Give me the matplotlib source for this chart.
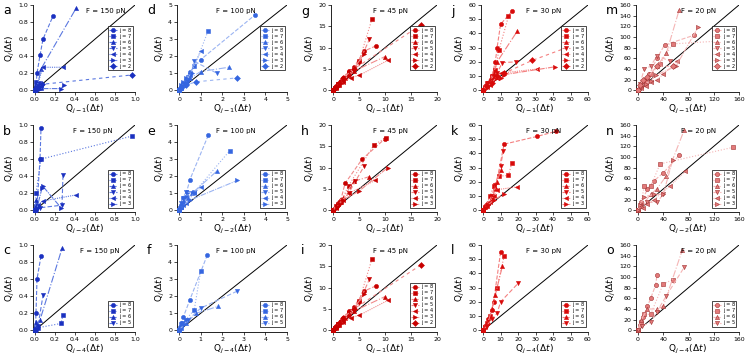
import matplotlib
matplotlib.use("Agg")
import matplotlib.pyplot as plt

# ---------------- data (estimated) ----------------
j_labels = [8, 7, 6, 5, 4, 3, 2]

a_x = [[0, 0.005, 0.01, 0.02, 0.05, 0.08, 0.18], [0, 0.005, 0.01, 0.02, 0.03, 0.06],
       [0, 0.01, 0.03, 0.06, 0.41], [0, 0.01, 0.02, 0.04, 0.07],
       [0, 0.01, 0.02, 0.08, 0.28], [0, 0.01, 0.05, 0.26, 0.29], [0, 0.01, 0.03, 0.07, 0.97]]
a_y = [[0, 0.02, 0.05, 0.2, 0.41, 0.6, 0.87], [0, 0.03, 0.1, 0.06, 0.05, 0.03],
       [0, 0.02, 0.08, 0.25, 0.96], [0, 0.01, 0.02, 0.08, 0.05],
       [0, 0.03, 0.05, 0.27, 0.27], [0, 0.02, 0.02, 0.02, 0.06], [0, 0.01, 0.04, 0.07, 0.18]]

b_x = [[0, 0.01, 0.02, 0.05, 0.06], [0, 0.005, 0.01, 0.06, 0.97], [0, 0.01, 0.02, 0.04],
       [0, 0.02, 0.05, 0.27, 0.28], [0, 0.01, 0.03, 0.08, 0.41], [0, 0.02, 0.07, 0.08, 0.26]]
b_y = [[0, 0.03, 0.05, 0.6, 0.96], [0, 0.05, 0.2, 0.6, 0.87], [0, 0.12, 0.07, 0.05],
       [0, 0.02, 0.03, 0.06, 0.41], [0, 0.02, 0.06, 0.11, 0.18], [0, 0.03, 0.26, 0.28, 0.03]]

c_x = [[0, 0.005, 0.01, 0.02, 0.06], [0, 0.01, 0.03, 0.26, 0.28],
       [0, 0.01, 0.02, 0.05, 0.27], [0, 0.01, 0.03, 0.08]]
c_y = [[0, 0.05, 0.2, 0.6, 0.87], [0, 0.02, 0.03, 0.08, 0.18],
       [0, 0.1, 0.05, 0.12, 0.96], [0, 0.02, 0.05, 0.41]]

d_x = [[0, 0.05, 0.1, 0.2, 0.3, 0.5, 1.0, 3.5], [0, 0.1, 0.2, 0.3, 0.4, 0.7, 1.35],
       [0, 0.1, 0.2, 0.35, 0.5, 1.0, 2.3], [0, 0.15, 0.3, 0.5, 0.7, 1.75],
       [0, 0.1, 0.2, 0.35, 0.5, 1.0], [0, 0.05, 0.1, 0.2, 0.3, 0.6], [0, 0.1, 0.3, 0.8, 2.7]]
d_y = [[0, 0.1, 0.2, 0.4, 0.6, 1.1, 1.8, 4.4], [0, 0.15, 0.3, 0.5, 0.8, 1.4, 3.5],
       [0, 0.15, 0.3, 0.5, 0.7, 1.1, 1.35], [0, 0.25, 0.5, 0.9, 1.7, 1.0],
       [0, 0.2, 0.4, 0.6, 0.9, 2.3], [0, 0.1, 0.3, 0.5, 0.7, 1.0], [0, 0.15, 0.3, 0.5, 0.73]]

e_x = [[0, 0.05, 0.1, 0.2, 0.35, 0.5, 1.35], [0, 0.1, 0.2, 0.3, 0.7, 2.35],
       [0, 0.1, 0.2, 0.4, 0.6, 1.75], [0, 0.05, 0.1, 0.2, 0.3, 0.6],
       [0, 0.1, 0.2, 0.3, 0.7, 1.0], [0, 0.1, 0.2, 0.5, 2.7]]
e_y = [[0, 0.15, 0.3, 0.7, 1.1, 1.8, 4.4], [0, 0.2, 0.5, 0.8, 1.05, 3.5],
       [0, 0.2, 0.5, 0.7, 1.0, 2.3], [0, 0.15, 0.4, 0.7, 1.1, 1.0],
       [0, 0.2, 0.3, 0.4, 1.0, 1.35], [0, 0.15, 0.3, 0.6, 1.75]]

f_x = [[0, 0.05, 0.1, 0.2, 0.5, 1.3], [0, 0.1, 0.2, 0.3, 0.7, 1.0],
       [0, 0.1, 0.3, 0.8, 1.8], [0, 0.2, 0.4, 1.0, 2.7]]
f_y = [[0, 0.2, 0.4, 0.8, 1.8, 4.4], [0, 0.2, 0.4, 0.6, 1.2, 3.5],
       [0, 0.15, 0.4, 1.0, 1.4], [0, 0.3, 0.6, 1.3, 2.3]]

g_x = [[0, 0.3, 0.6, 1, 1.5, 2, 3, 4, 6, 8.2], [0, 0.5, 1, 1.5, 2.2, 3, 5, 7.5],
       [0, 0.5, 1, 2, 3, 4, 10], [0, 0.4, 1, 2, 3, 5, 7],
       [0, 0.6, 1.2, 2, 3.5, 5, 10.5], [0, 0.3, 1, 2, 3, 6], [0, 0.5, 1.2, 2, 4, 17]]
g_y = [[0, 0.5, 1, 1.5, 2.2, 3, 4.5, 5.5, 9.2, 10.4], [0, 0.8, 1.5, 2, 3, 4, 6.8, 16.8],
       [0, 0.6, 1.2, 2.5, 3.5, 4.5, 7.9], [0, 0.6, 1.5, 2.5, 4, 6.5, 12],
       [0, 0.7, 1.3, 2, 3, 3.5, 7], [0, 0.5, 1, 2.3, 3.5, 8.5], [0, 0.8, 1.8, 3, 5, 15.4]]

h_x = [[0, 0.3, 0.7, 1, 1.5, 2.3, 5.6, 10], [0, 0.5, 1, 1.5, 3, 7.9, 10.1],
       [0, 0.4, 1, 2, 4, 7], [0, 0.5, 1.5, 3, 4.3, 6],
       [0, 0.5, 1, 2, 3, 8.1], [0, 0.7, 1.3, 2, 5, 10.5]]
h_y = [[0, 0.6, 1, 1.5, 2.5, 6.3, 12, 16.8], [0, 0.8, 1.5, 2, 5.8, 15.4, 16.9],
       [0, 0.7, 2, 3, 6.8, 7.9], [0, 1, 2, 4, 6.8, 10.4],
       [0, 0.6, 1.5, 2.5, 4, 7], [0, 0.8, 1.5, 2.5, 4.5, 10]]

i_x = [[0, 0.3, 0.6, 1, 1.5, 2, 3, 4, 6, 8.2], [0, 0.5, 1, 1.5, 2.2, 3, 5, 7.5],
       [0, 0.5, 1, 2, 3, 4, 10], [0, 0.4, 1, 2, 3, 5, 7],
       [0, 0.6, 1.2, 2, 3.5, 5, 10.5], [0, 0.3, 1, 2, 3, 6], [0, 0.5, 1.2, 2, 4, 17]]
i_y = [[0, 0.5, 1, 1.5, 2.2, 3, 4.5, 5.5, 9.2, 10.4], [0, 0.8, 1.5, 2, 3, 4, 6.8, 16.8],
       [0, 0.6, 1.2, 2.5, 3.5, 4.5, 7.9], [0, 0.6, 1.5, 2.5, 4, 6.5, 12],
       [0, 0.7, 1.3, 2, 3, 3.5, 7], [0, 0.5, 1, 2.3, 3.5, 8.5], [0, 0.8, 1.8, 3, 5, 15.4]]

j_x = [[0, 1, 2, 3, 5, 7, 8, 10, 16.5], [0, 1, 2.5, 5, 7, 9, 14.5],
       [0, 1, 2, 4, 6, 8, 19.5], [0, 1.5, 3, 6, 8, 11, 19],
       [0, 2, 4, 5, 8, 10, 31], [0, 2, 5, 7, 10, 12, 41], [0, 2, 5, 8, 12, 28, 55.5]]
j_y = [[0, 2, 4, 5, 10, 20, 30, 46.5, 55.5], [0, 2, 5, 10, 14, 28, 52],
       [0, 3, 5, 8, 12, 20, 41.5], [0, 3, 5, 10, 12, 19.5, 20],
       [0, 2, 4, 8, 9, 12, 15], [0, 2, 5, 8, 9, 11, 16.5], [0, 3, 5, 10, 12, 21, 33.5]]

k_x = [[0, 1, 3, 5, 7, 12, 31, 41.5], [0, 1.5, 4, 6, 9, 14.5, 16.5], [0, 1, 3, 5, 8, 10],
       [0, 2, 5, 7, 10, 11.5], [0, 2, 4, 6, 8, 19.5], [0, 1, 3, 6, 12]]
k_y = [[0, 2, 5, 9, 15, 46.5, 52, 55.5], [0, 3, 10, 17, 24, 24.5, 33.5],
       [0, 2, 5, 8, 20, 28], [0, 4, 10, 18, 31, 41.5], [0, 3, 6, 10, 14.5, 16.5],
       [0, 2, 4, 7, 11.5]]

l_x = [[0, 1, 3, 5, 6, 10], [0, 1, 2, 4, 8, 12], [0, 1, 3, 5, 7, 11], [0, 2, 5, 8, 10, 20]]
l_y = [[0, 3, 8, 14, 20, 55], [0, 2, 5, 10, 30, 52], [0, 3, 6, 15, 25, 45],
       [0, 3, 8, 12, 20, 33]]

m_x = [[0, 3, 10, 18, 30, 42, 88], [0, 5, 12, 20, 35, 55, 150], [0, 4, 8, 15, 30, 45, 65],
       [0, 3, 10, 20, 30, 50], [0, 5, 12, 20, 30, 40, 62], [0, 4, 12, 20, 28, 60, 95],
       [0, 3, 8, 15, 30, 55]]
m_y = [[0, 5, 20, 30, 60, 85, 103], [0, 8, 15, 30, 50, 87, 94], [0, 10, 18, 25, 45, 70, 150],
       [0, 12, 40, 45, 65, 55], [0, 4, 8, 15, 20, 30, 55], [0, 6, 12, 18, 28, 45, 118],
       [0, 10, 20, 25, 45, 45]]

n_x = [[0, 5, 15, 25, 40, 65], [0, 4, 10, 20, 35, 150], [0, 6, 20, 30, 45, 73],
       [0, 5, 15, 30, 40], [0, 8, 15, 25, 50, 75], [0, 3, 10, 25, 40, 55]]
n_y = [[0, 15, 40, 55, 70, 103], [0, 10, 45, 45, 87, 118], [0, 8, 30, 40, 65, 150],
       [0, 8, 15, 15, 30], [0, 5, 12, 20, 45, 73], [0, 10, 25, 30, 30, 95]]

o_x = [[0, 3, 8, 15, 20, 28, 30], [0, 4, 10, 20, 40, 55], [0, 5, 15, 30, 40, 70],
       [0, 6, 20, 30, 45, 73]]
o_y = [[0, 10, 25, 45, 60, 85, 103], [0, 15, 30, 30, 87, 95], [0, 20, 40, 40, 45, 150],
       [0, 8, 15, 35, 65, 118]]

forces = ["F = 150 pN", "F = 100 pN", "F = 45 pN", "F = 30 pN", "F = 20 pN"]
xlabels_rows = [[1, 1, 1, 1, 1], [2, 2, 2, 2, 2], [4, 4, 1, 4, 4]]
limits = [1.0, 5, 20, 60, 160]
yticks = [[0, 0.2, 0.4, 0.6, 0.8, 1.0], [0, 1, 2, 3, 4, 5], [0, 5, 10, 15, 20],
          [0, 10, 20, 30, 40, 50, 60], [0, 20, 40, 60, 80, 100, 120, 140, 160]]
xticks = [[0, 0.2, 0.4, 0.6, 0.8, 1.0], [0, 1, 2, 3, 4, 5], [0, 5, 10, 15, 20],
          [0, 10, 20, 30, 40, 50, 60], [0, 40, 80, 120, 160]]
letters = ["a", "b", "c", "d", "e", "f", "g", "h", "i", "j", "k", "l", "m", "n", "o"]

panels_x = [a_x, b_x, c_x, d_x, e_x, f_x, g_x, h_x, i_x, j_x, k_x, l_x, m_x, n_x, o_x]
panels_y = [a_y, b_y, c_y, d_y, e_y, f_y, g_y, h_y, i_y, j_y, k_y, l_y, m_y, n_y, o_y]

# ---------------- styles ----------------
markers = ["o", "s", "^", "v", "<", ">", "D"]
linestyles = ["--", ":", "-.", (0, (4, 2)), (0, (1, 1)), (0, (5, 1, 1, 1)), (0, (3, 3))]
mcol = ["#1a30c0", "#3566e0", "#c80000", "#d80a0a", "#e37a7a"]
mec = ["#1a30c0", "#3566e0", "#c80000", "#d80a0a", "#a03030"]
lcol = ["#5b78e0", "#9bb4f2", "#f08a8a", "#f48080", "#f5b5b5"]
leg_anchor_y = [0.22, 0.02, 0.03]
force_x = [[0.52, 0.39, 0.46], [0.35, 0.35, 0.35], [0.40, 0.40, 0.40],
           [0.42, 0.42, 0.42], [0.44, 0.44, 0.44]]

W, H = 745, 359
col_left = [33, 177, 331, 481, 636]
col_w = [102, 110, 106, 107, 103]
row_top = [5, 125, 245]
ah = 87

fig = plt.figure(figsize=(W / 100, H / 100), dpi=100)
plt.rcParams['font.family'] = ['DejaVu Sans']

for c in range(5):
    for r in range(3):
        idx = c * 3 + r
        ax = fig.add_axes([col_left[c] / W, 1 - (row_top[r] + ah) / H, col_w[c] / W, ah / H])
        lim = limits[c]
        xs, ys = panels_x[idx], panels_y[idx]
        ax.plot([0, lim], [0, lim], color="black", lw=0.7, zorder=1)
        for s in range(len(xs)):
            ax.plot(xs[s], ys[s], linestyle=linestyles[s], color=lcol[c], lw=0.8,
                    marker=markers[s], markersize=3, markerfacecolor=mcol[c],
                    markeredgecolor=mec[c], markeredgewidth=0.4,
                    label=f"j = {j_labels[s]}", zorder=3)
        ax.set_xlim(-0.02 * lim, lim)
        ax.set_ylim(-0.02 * lim, lim)
        ax.set_xticks(xticks[c])
        ax.set_yticks(yticks[c])
        if c == 0:
            ax.set_xticklabels([f"{v:.1f}" for v in xticks[c]])
            ax.set_yticklabels([f"{v:.1f}" for v in yticks[c]])
        ax.tick_params(labelsize=4.5, length=2, width=0.5, pad=1.5)
        for sp in ["top", "right"]:
            ax.spines[sp].set_visible(False)
        for sp in ["left", "bottom"]:
            ax.spines[sp].set_linewidth(0.6)
        k = xlabels_rows[r][c]
        ax.set_xlabel(r"Q$_{j-%d}$($\Delta t$)" % k, fontsize=6.5, labelpad=1)
        ax.set_ylabel(r"Q$_j$($\Delta t$)", fontsize=6.5, labelpad=1)
        ax.text(force_x[c][r], 0.93, forces[c], transform=ax.transAxes, fontsize=5,
                va="center", ha="left")
        leg = ax.legend(loc="lower right", bbox_to_anchor=(1.0, leg_anchor_y[r]),
                        fontsize=3.6, handlelength=1.6, handletextpad=0.3,
                        labelspacing=0.2, borderpad=0.3, fancybox=False,
                        edgecolor="black", framealpha=1)
        leg.get_frame().set_linewidth(0.5)
        fig.text((col_left[c] - 30) / W, 1 - (row_top[r] + 6) / H, letters[idx],
                 fontsize=9, va="center", ha="left")

fig.savefig("out.png", dpi=100)
